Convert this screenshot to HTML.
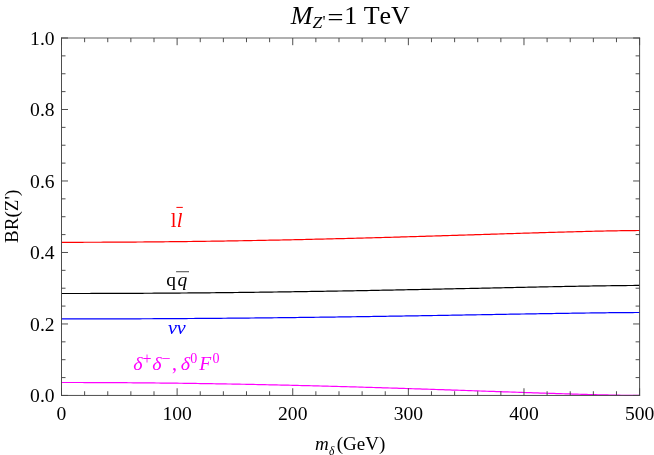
<!DOCTYPE html>
<html><head><meta charset="utf-8"><title>BR(Z')</title>
<style>
html,body{margin:0;padding:0;background:#fff;}
body{width:654px;height:455px;overflow:hidden;}
svg{display:block;will-change:transform;}
text{font-family:"Liberation Serif",serif;font-kerning:none;}
</style></head><body>
<svg width="654" height="455" viewBox="0 0 654 455">
<rect width="654" height="455" fill="#fff"/>
<g fill="none" stroke-width="1.2" stroke-linejoin="round">
<path d="M61.50,242.30 L63.81,242.30 L66.12,242.30 L68.44,242.30 L70.75,242.30 L73.06,242.29 L75.37,242.29 L77.69,242.29 L80.00,242.28 L82.31,242.28 L84.62,242.27 L86.94,242.27 L89.25,242.26 L91.56,242.26 L93.87,242.25 L96.19,242.24 L98.50,242.23 L100.81,242.23 L103.12,242.22 L105.44,242.21 L107.75,242.20 L110.06,242.19 L112.37,242.17 L114.69,242.16 L117.00,242.15 L119.31,242.14 L121.62,242.12 L123.93,242.11 L126.25,242.10 L128.56,242.08 L130.87,242.07 L133.18,242.05 L135.50,242.03 L137.81,242.02 L140.12,242.00 L142.43,241.98 L144.75,241.96 L147.06,241.94 L149.37,241.92 L151.68,241.90 L154.00,241.88 L156.31,241.86 L158.62,241.84 L160.93,241.82 L163.25,241.79 L165.56,241.77 L167.87,241.75 L170.18,241.72 L172.50,241.70 L174.81,241.67 L177.12,241.65 L179.43,241.62 L181.74,241.59 L184.06,241.57 L186.37,241.54 L188.68,241.51 L190.99,241.48 L193.31,241.45 L195.62,241.42 L197.93,241.39 L200.24,241.36 L202.56,241.33 L204.87,241.30 L207.18,241.27 L209.49,241.23 L211.81,241.20 L214.12,241.17 L216.43,241.13 L218.74,241.10 L221.06,241.06 L223.37,241.03 L225.68,240.99 L227.99,240.96 L230.31,240.92 L232.62,240.88 L234.93,240.84 L237.24,240.80 L239.55,240.76 L241.87,240.73 L244.18,240.69 L246.49,240.64 L248.80,240.60 L251.12,240.56 L253.43,240.52 L255.74,240.48 L258.05,240.44 L260.37,240.39 L262.68,240.35 L264.99,240.30 L267.30,240.26 L269.62,240.21 L271.93,240.17 L274.24,240.12 L276.55,240.08 L278.87,240.03 L281.18,239.98 L283.49,239.93 L285.80,239.89 L288.12,239.84 L290.43,239.79 L292.74,239.74 L295.05,239.69 L297.36,239.64 L299.68,239.59 L301.99,239.54 L304.30,239.48 L306.61,239.43 L308.93,239.38 L311.24,239.33 L313.55,239.27 L315.86,239.22 L318.18,239.16 L320.49,239.11 L322.80,239.05 L325.11,239.00 L327.43,238.94 L329.74,238.89 L332.05,238.83 L334.36,238.77 L336.68,238.72 L338.99,238.66 L341.30,238.60 L343.61,238.54 L345.93,238.48 L348.24,238.42 L350.55,238.36 L352.86,238.30 L355.17,238.24 L357.49,238.18 L359.80,238.12 L362.11,238.06 L364.42,238.00 L366.74,237.93 L369.05,237.87 L371.36,237.81 L373.67,237.75 L375.99,237.68 L378.30,237.62 L380.61,237.55 L382.92,237.49 L385.24,237.43 L387.55,237.36 L389.86,237.29 L392.17,237.23 L394.49,237.16 L396.80,237.10 L399.11,237.03 L401.42,236.96 L403.74,236.90 L406.05,236.83 L408.36,236.76 L410.67,236.69 L412.98,236.63 L415.30,236.56 L417.61,236.49 L419.92,236.42 L422.23,236.35 L424.55,236.28 L426.86,236.21 L429.17,236.14 L431.48,236.07 L433.80,236.00 L436.11,235.93 L438.42,235.86 L440.73,235.79 L443.05,235.72 L445.36,235.65 L447.67,235.58 L449.98,235.51 L452.30,235.43 L454.61,235.36 L456.92,235.29 L459.23,235.22 L461.55,235.15 L463.86,235.08 L466.17,235.00 L468.48,234.93 L470.79,234.86 L473.11,234.79 L475.42,234.71 L477.73,234.64 L480.04,234.57 L482.36,234.50 L484.67,234.42 L486.98,234.35 L489.29,234.28 L491.61,234.21 L493.92,234.13 L496.23,234.06 L498.54,233.99 L500.86,233.92 L503.17,233.85 L505.48,233.77 L507.79,233.70 L510.11,233.63 L512.42,233.56 L514.73,233.49 L517.04,233.41 L519.36,233.34 L521.67,233.27 L523.98,233.20 L526.29,233.13 L528.60,233.06 L530.92,232.99 L533.23,232.92 L535.54,232.85 L537.85,232.78 L540.17,232.71 L542.48,232.64 L544.79,232.57 L547.10,232.51 L549.42,232.44 L551.73,232.37 L554.04,232.30 L556.35,232.24 L558.67,232.17 L560.98,232.11 L563.29,232.04 L565.60,231.98 L567.92,231.91 L570.23,231.85 L572.54,231.79 L574.85,231.73 L577.17,231.67 L579.48,231.61 L581.79,231.55 L584.10,231.49 L586.41,231.43 L588.73,231.37 L591.04,231.32 L593.35,231.26 L595.66,231.21 L597.98,231.16 L600.29,231.10 L602.60,231.05 L604.91,231.00 L607.23,230.96 L609.54,230.91 L611.85,230.86 L614.16,230.82 L616.48,230.78 L618.79,230.74 L621.10,230.70 L623.41,230.67 L625.73,230.63 L628.04,230.60 L630.35,230.57 L632.66,230.55 L634.98,230.53 L637.29,230.51 L639.60,230.50" stroke="#ff0000"/>
<path d="M61.50,293.50 L63.81,293.50 L66.12,293.50 L68.44,293.50 L70.75,293.50 L73.06,293.50 L75.37,293.50 L77.69,293.49 L80.00,293.49 L82.31,293.49 L84.62,293.48 L86.94,293.48 L89.25,293.48 L91.56,293.47 L93.87,293.47 L96.19,293.46 L98.50,293.46 L100.81,293.45 L103.12,293.44 L105.44,293.44 L107.75,293.43 L110.06,293.42 L112.37,293.42 L114.69,293.41 L117.00,293.40 L119.31,293.39 L121.62,293.38 L123.93,293.37 L126.25,293.36 L128.56,293.35 L130.87,293.34 L133.18,293.33 L135.50,293.32 L137.81,293.31 L140.12,293.30 L142.43,293.28 L144.75,293.27 L147.06,293.26 L149.37,293.24 L151.68,293.23 L154.00,293.22 L156.31,293.20 L158.62,293.19 L160.93,293.17 L163.25,293.16 L165.56,293.14 L167.87,293.12 L170.18,293.11 L172.50,293.09 L174.81,293.07 L177.12,293.06 L179.43,293.04 L181.74,293.02 L184.06,293.00 L186.37,292.98 L188.68,292.96 L190.99,292.94 L193.31,292.92 L195.62,292.90 L197.93,292.88 L200.24,292.86 L202.56,292.84 L204.87,292.82 L207.18,292.80 L209.49,292.78 L211.81,292.75 L214.12,292.73 L216.43,292.71 L218.74,292.68 L221.06,292.66 L223.37,292.63 L225.68,292.61 L227.99,292.58 L230.31,292.56 L232.62,292.53 L234.93,292.51 L237.24,292.48 L239.55,292.46 L241.87,292.43 L244.18,292.40 L246.49,292.37 L248.80,292.35 L251.12,292.32 L253.43,292.29 L255.74,292.26 L258.05,292.23 L260.37,292.20 L262.68,292.17 L264.99,292.14 L267.30,292.11 L269.62,292.08 L271.93,292.05 L274.24,292.02 L276.55,291.99 L278.87,291.95 L281.18,291.92 L283.49,291.89 L285.80,291.86 L288.12,291.82 L290.43,291.79 L292.74,291.76 L295.05,291.72 L297.36,291.69 L299.68,291.65 L301.99,291.62 L304.30,291.58 L306.61,291.55 L308.93,291.51 L311.24,291.47 L313.55,291.44 L315.86,291.40 L318.18,291.36 L320.49,291.33 L322.80,291.29 L325.11,291.25 L327.43,291.21 L329.74,291.17 L332.05,291.14 L334.36,291.10 L336.68,291.06 L338.99,291.02 L341.30,290.98 L343.61,290.94 L345.93,290.90 L348.24,290.86 L350.55,290.82 L352.86,290.78 L355.17,290.74 L357.49,290.69 L359.80,290.65 L362.11,290.61 L364.42,290.57 L366.74,290.53 L369.05,290.48 L371.36,290.44 L373.67,290.40 L375.99,290.35 L378.30,290.31 L380.61,290.27 L382.92,290.22 L385.24,290.18 L387.55,290.13 L389.86,290.09 L392.17,290.04 L394.49,290.00 L396.80,289.95 L399.11,289.91 L401.42,289.86 L403.74,289.82 L406.05,289.77 L408.36,289.72 L410.67,289.68 L412.98,289.63 L415.30,289.59 L417.61,289.54 L419.92,289.49 L422.23,289.44 L424.55,289.40 L426.86,289.35 L429.17,289.30 L431.48,289.25 L433.80,289.21 L436.11,289.16 L438.42,289.11 L440.73,289.06 L443.05,289.01 L445.36,288.97 L447.67,288.92 L449.98,288.87 L452.30,288.82 L454.61,288.77 L456.92,288.72 L459.23,288.67 L461.55,288.62 L463.86,288.57 L466.17,288.52 L468.48,288.48 L470.79,288.43 L473.11,288.38 L475.42,288.33 L477.73,288.28 L480.04,288.23 L482.36,288.18 L484.67,288.13 L486.98,288.08 L489.29,288.03 L491.61,287.98 L493.92,287.93 L496.23,287.88 L498.54,287.83 L500.86,287.78 L503.17,287.73 L505.48,287.68 L507.79,287.64 L510.11,287.59 L512.42,287.54 L514.73,287.49 L517.04,287.44 L519.36,287.39 L521.67,287.34 L523.98,287.29 L526.29,287.25 L528.60,287.20 L530.92,287.15 L533.23,287.10 L535.54,287.05 L537.85,287.01 L540.17,286.96 L542.48,286.91 L544.79,286.87 L547.10,286.82 L549.42,286.77 L551.73,286.73 L554.04,286.68 L556.35,286.64 L558.67,286.59 L560.98,286.55 L563.29,286.50 L565.60,286.46 L567.92,286.41 L570.23,286.37 L572.54,286.33 L574.85,286.29 L577.17,286.25 L579.48,286.20 L581.79,286.16 L584.10,286.12 L586.41,286.08 L588.73,286.04 L591.04,286.01 L593.35,285.97 L595.66,285.93 L597.98,285.90 L600.29,285.86 L602.60,285.83 L604.91,285.79 L607.23,285.76 L609.54,285.73 L611.85,285.70 L614.16,285.67 L616.48,285.64 L618.79,285.61 L621.10,285.59 L623.41,285.56 L625.73,285.54 L628.04,285.52 L630.35,285.50 L632.66,285.48 L634.98,285.47 L637.29,285.45 L639.60,285.45" stroke="#000000"/>
<path d="M61.50,318.95 L63.81,318.95 L66.12,318.95 L68.44,318.95 L70.75,318.95 L73.06,318.95 L75.37,318.94 L77.69,318.94 L80.00,318.94 L82.31,318.94 L84.62,318.93 L86.94,318.93 L89.25,318.93 L91.56,318.93 L93.87,318.92 L96.19,318.92 L98.50,318.91 L100.81,318.91 L103.12,318.90 L105.44,318.90 L107.75,318.89 L110.06,318.89 L112.37,318.88 L114.69,318.87 L117.00,318.87 L119.31,318.86 L121.62,318.85 L123.93,318.85 L126.25,318.84 L128.56,318.83 L130.87,318.82 L133.18,318.81 L135.50,318.80 L137.81,318.79 L140.12,318.78 L142.43,318.77 L144.75,318.76 L147.06,318.75 L149.37,318.74 L151.68,318.73 L154.00,318.72 L156.31,318.71 L158.62,318.70 L160.93,318.69 L163.25,318.67 L165.56,318.66 L167.87,318.65 L170.18,318.64 L172.50,318.62 L174.81,318.61 L177.12,318.59 L179.43,318.58 L181.74,318.57 L184.06,318.55 L186.37,318.54 L188.68,318.52 L190.99,318.50 L193.31,318.49 L195.62,318.47 L197.93,318.46 L200.24,318.44 L202.56,318.42 L204.87,318.41 L207.18,318.39 L209.49,318.37 L211.81,318.35 L214.12,318.33 L216.43,318.31 L218.74,318.30 L221.06,318.28 L223.37,318.26 L225.68,318.24 L227.99,318.22 L230.31,318.20 L232.62,318.18 L234.93,318.16 L237.24,318.14 L239.55,318.11 L241.87,318.09 L244.18,318.07 L246.49,318.05 L248.80,318.03 L251.12,318.00 L253.43,317.98 L255.74,317.96 L258.05,317.93 L260.37,317.91 L262.68,317.89 L264.99,317.86 L267.30,317.84 L269.62,317.81 L271.93,317.79 L274.24,317.76 L276.55,317.74 L278.87,317.71 L281.18,317.69 L283.49,317.66 L285.80,317.64 L288.12,317.61 L290.43,317.58 L292.74,317.56 L295.05,317.53 L297.36,317.50 L299.68,317.47 L301.99,317.45 L304.30,317.42 L306.61,317.39 L308.93,317.36 L311.24,317.33 L313.55,317.30 L315.86,317.27 L318.18,317.24 L320.49,317.21 L322.80,317.18 L325.11,317.15 L327.43,317.12 L329.74,317.09 L332.05,317.06 L334.36,317.03 L336.68,317.00 L338.99,316.97 L341.30,316.94 L343.61,316.90 L345.93,316.87 L348.24,316.84 L350.55,316.81 L352.86,316.77 L355.17,316.74 L357.49,316.71 L359.80,316.67 L362.11,316.64 L364.42,316.61 L366.74,316.57 L369.05,316.54 L371.36,316.50 L373.67,316.47 L375.99,316.44 L378.30,316.40 L380.61,316.37 L382.92,316.33 L385.24,316.29 L387.55,316.26 L389.86,316.22 L392.17,316.19 L394.49,316.15 L396.80,316.12 L399.11,316.08 L401.42,316.04 L403.74,316.01 L406.05,315.97 L408.36,315.93 L410.67,315.90 L412.98,315.86 L415.30,315.82 L417.61,315.78 L419.92,315.75 L422.23,315.71 L424.55,315.67 L426.86,315.63 L429.17,315.59 L431.48,315.56 L433.80,315.52 L436.11,315.48 L438.42,315.44 L440.73,315.40 L443.05,315.36 L445.36,315.32 L447.67,315.29 L449.98,315.25 L452.30,315.21 L454.61,315.17 L456.92,315.13 L459.23,315.09 L461.55,315.05 L463.86,315.01 L466.17,314.97 L468.48,314.93 L470.79,314.89 L473.11,314.85 L475.42,314.81 L477.73,314.77 L480.04,314.73 L482.36,314.69 L484.67,314.65 L486.98,314.61 L489.29,314.57 L491.61,314.54 L493.92,314.50 L496.23,314.46 L498.54,314.42 L500.86,314.38 L503.17,314.34 L505.48,314.30 L507.79,314.26 L510.11,314.22 L512.42,314.18 L514.73,314.14 L517.04,314.10 L519.36,314.06 L521.67,314.02 L523.98,313.98 L526.29,313.94 L528.60,313.91 L530.92,313.87 L533.23,313.83 L535.54,313.79 L537.85,313.75 L540.17,313.71 L542.48,313.68 L544.79,313.64 L547.10,313.60 L549.42,313.57 L551.73,313.53 L554.04,313.49 L556.35,313.46 L558.67,313.42 L560.98,313.38 L563.29,313.35 L565.60,313.31 L567.92,313.28 L570.23,313.24 L572.54,313.21 L574.85,313.17 L577.17,313.14 L579.48,313.11 L581.79,313.08 L584.10,313.04 L586.41,313.01 L588.73,312.98 L591.04,312.95 L593.35,312.92 L595.66,312.89 L597.98,312.86 L600.29,312.83 L602.60,312.80 L604.91,312.78 L607.23,312.75 L609.54,312.72 L611.85,312.70 L614.16,312.68 L616.48,312.65 L618.79,312.63 L621.10,312.61 L623.41,312.59 L625.73,312.57 L628.04,312.56 L630.35,312.54 L632.66,312.53 L634.98,312.51 L637.29,312.51 L639.60,312.50" stroke="#0000ff"/>
<path d="M61.50,382.50 L63.81,382.50 L66.12,382.50 L68.44,382.50 L70.75,382.50 L73.06,382.51 L75.37,382.51 L77.69,382.51 L80.00,382.52 L82.31,382.52 L84.62,382.53 L86.94,382.53 L89.25,382.54 L91.56,382.55 L93.87,382.56 L96.19,382.56 L98.50,382.57 L100.81,382.58 L103.12,382.59 L105.44,382.60 L107.75,382.61 L110.06,382.63 L112.37,382.64 L114.69,382.65 L117.00,382.66 L119.31,382.68 L121.62,382.69 L123.93,382.71 L126.25,382.72 L128.56,382.74 L130.87,382.76 L133.18,382.78 L135.50,382.79 L137.81,382.81 L140.12,382.83 L142.43,382.85 L144.75,382.87 L147.06,382.89 L149.37,382.91 L151.68,382.94 L154.00,382.96 L156.31,382.98 L158.62,383.01 L160.93,383.03 L163.25,383.06 L165.56,383.08 L167.87,383.11 L170.18,383.13 L172.50,383.16 L174.81,383.19 L177.12,383.22 L179.43,383.25 L181.74,383.27 L184.06,383.30 L186.37,383.34 L188.68,383.37 L190.99,383.40 L193.31,383.43 L195.62,383.46 L197.93,383.50 L200.24,383.53 L202.56,383.56 L204.87,383.60 L207.18,383.63 L209.49,383.67 L211.81,383.71 L214.12,383.74 L216.43,383.78 L218.74,383.82 L221.06,383.86 L223.37,383.90 L225.68,383.94 L227.99,383.98 L230.31,384.02 L232.62,384.06 L234.93,384.10 L237.24,384.14 L239.55,384.19 L241.87,384.23 L244.18,384.27 L246.49,384.32 L248.80,384.36 L251.12,384.41 L253.43,384.45 L255.74,384.50 L258.05,384.55 L260.37,384.60 L262.68,384.64 L264.99,384.69 L267.30,384.74 L269.62,384.79 L271.93,384.84 L274.24,384.89 L276.55,384.94 L278.87,384.99 L281.18,385.05 L283.49,385.10 L285.80,385.15 L288.12,385.21 L290.43,385.26 L292.74,385.31 L295.05,385.37 L297.36,385.42 L299.68,385.48 L301.99,385.54 L304.30,385.59 L306.61,385.65 L308.93,385.71 L311.24,385.77 L313.55,385.83 L315.86,385.88 L318.18,385.94 L320.49,386.00 L322.80,386.06 L325.11,386.13 L327.43,386.19 L329.74,386.25 L332.05,386.31 L334.36,386.37 L336.68,386.44 L338.99,386.50 L341.30,386.56 L343.61,386.63 L345.93,386.69 L348.24,386.76 L350.55,386.82 L352.86,386.89 L355.17,386.96 L357.49,387.02 L359.80,387.09 L362.11,387.16 L364.42,387.23 L366.74,387.29 L369.05,387.36 L371.36,387.43 L373.67,387.50 L375.99,387.57 L378.30,387.64 L380.61,387.71 L382.92,387.78 L385.24,387.85 L387.55,387.92 L389.86,388.00 L392.17,388.07 L394.49,388.14 L396.80,388.21 L399.11,388.29 L401.42,388.36 L403.74,388.43 L406.05,388.51 L408.36,388.58 L410.67,388.66 L412.98,388.73 L415.30,388.81 L417.61,388.88 L419.92,388.96 L422.23,389.03 L424.55,389.11 L426.86,389.18 L429.17,389.26 L431.48,389.34 L433.80,389.41 L436.11,389.49 L438.42,389.57 L440.73,389.65 L443.05,389.72 L445.36,389.80 L447.67,389.88 L449.98,389.96 L452.30,390.04 L454.61,390.12 L456.92,390.19 L459.23,390.27 L461.55,390.35 L463.86,390.43 L466.17,390.51 L468.48,390.59 L470.79,390.67 L473.11,390.75 L475.42,390.83 L477.73,390.91 L480.04,390.99 L482.36,391.07 L484.67,391.15 L486.98,391.23 L489.29,391.30 L491.61,391.38 L493.92,391.46 L496.23,391.54 L498.54,391.62 L500.86,391.70 L503.17,391.78 L505.48,391.86 L507.79,391.94 L510.11,392.02 L512.42,392.10 L514.73,392.18 L517.04,392.25 L519.36,392.33 L521.67,392.41 L523.98,392.49 L526.29,392.57 L528.60,392.64 L530.92,392.72 L533.23,392.80 L535.54,392.87 L537.85,392.95 L540.17,393.03 L542.48,393.10 L544.79,393.18 L547.10,393.25 L549.42,393.32 L551.73,393.40 L554.04,393.47 L556.35,393.54 L558.67,393.62 L560.98,393.69 L563.29,393.76 L565.60,393.83 L567.92,393.90 L570.23,393.97 L572.54,394.04 L574.85,394.10 L577.17,394.17 L579.48,394.24 L581.79,394.30 L584.10,394.37 L586.41,394.43 L588.73,394.49 L591.04,394.55 L593.35,394.61 L595.66,394.67 L597.98,394.73 L600.29,394.79 L602.60,394.84 L604.91,394.90 L607.23,394.95 L609.54,395.00 L611.85,395.05 L614.16,395.10 L616.48,395.14 L618.79,395.19 L621.10,395.23 L623.41,395.27 L625.73,395.31 L628.04,395.34 L630.35,395.37 L632.66,395.40 L634.98,395.42 L637.29,395.44 L639.60,395.45" stroke="#ff00ff"/>
</g>
<path d="M61.5,37.6 V395.9 M639.6,37.6 V395.9 M61.0,395.45 H640.1" fill="none" stroke="#444" stroke-width="0.95"/>
<path d="M61.0,38.0 H640.1" fill="none" stroke="#444" stroke-width="0.85"/>
<path d="M61.50,395.45 v-7.20 M61.50,38.00 v7.20 M84.62,395.45 v-4.20 M84.62,38.00 v4.20 M107.75,395.45 v-4.20 M107.75,38.00 v4.20 M130.87,395.45 v-4.20 M130.87,38.00 v4.20 M154.00,395.45 v-4.20 M154.00,38.00 v4.20 M177.12,395.45 v-7.20 M177.12,38.00 v7.20 M200.24,395.45 v-4.20 M200.24,38.00 v4.20 M223.37,395.45 v-4.20 M223.37,38.00 v4.20 M246.49,395.45 v-4.20 M246.49,38.00 v4.20 M269.62,395.45 v-4.20 M269.62,38.00 v4.20 M292.74,395.45 v-7.20 M292.74,38.00 v7.20 M315.86,395.45 v-4.20 M315.86,38.00 v4.20 M338.99,395.45 v-4.20 M338.99,38.00 v4.20 M362.11,395.45 v-4.20 M362.11,38.00 v4.20 M385.24,395.45 v-4.20 M385.24,38.00 v4.20 M408.36,395.45 v-7.20 M408.36,38.00 v7.20 M431.48,395.45 v-4.20 M431.48,38.00 v4.20 M454.61,395.45 v-4.20 M454.61,38.00 v4.20 M477.73,395.45 v-4.20 M477.73,38.00 v4.20 M500.86,395.45 v-4.20 M500.86,38.00 v4.20 M523.98,395.45 v-7.20 M523.98,38.00 v7.20 M547.10,395.45 v-4.20 M547.10,38.00 v4.20 M570.23,395.45 v-4.20 M570.23,38.00 v4.20 M593.35,395.45 v-4.20 M593.35,38.00 v4.20 M616.48,395.45 v-4.20 M616.48,38.00 v4.20 M639.60,395.45 v-7.20 M639.60,38.00 v7.20 M61.50,395.45 h6.50 M639.60,395.45 h-6.50 M61.50,377.58 h4.00 M639.60,377.58 h-4.00 M61.50,359.70 h4.00 M639.60,359.70 h-4.00 M61.50,341.83 h4.00 M639.60,341.83 h-4.00 M61.50,323.96 h6.50 M639.60,323.96 h-6.50 M61.50,306.09 h4.00 M639.60,306.09 h-4.00 M61.50,288.21 h4.00 M639.60,288.21 h-4.00 M61.50,270.34 h4.00 M639.60,270.34 h-4.00 M61.50,252.47 h6.50 M639.60,252.47 h-6.50 M61.50,234.60 h4.00 M639.60,234.60 h-4.00 M61.50,216.72 h4.00 M639.60,216.72 h-4.00 M61.50,198.85 h4.00 M639.60,198.85 h-4.00 M61.50,180.98 h6.50 M639.60,180.98 h-6.50 M61.50,163.11 h4.00 M639.60,163.11 h-4.00 M61.50,145.23 h4.00 M639.60,145.23 h-4.00 M61.50,127.36 h4.00 M639.60,127.36 h-4.00 M61.50,109.49 h6.50 M639.60,109.49 h-6.50 M61.50,91.62 h4.00 M639.60,91.62 h-4.00 M61.50,73.75 h4.00 M639.60,73.75 h-4.00 M61.50,55.87 h4.00 M639.60,55.87 h-4.00 M61.50,38.00 h6.50 M639.60,38.00 h-6.50" fill="none" stroke="#444" stroke-width="0.95"/>
<g font-size="19.6" fill="#000"><text x="61.50" y="420" text-anchor="middle">0</text><text x="177.12" y="420" text-anchor="middle">100</text><text x="292.74" y="420" text-anchor="middle">200</text><text x="408.36" y="420" text-anchor="middle">300</text><text x="523.98" y="420" text-anchor="middle">400</text><text x="639.60" y="420" text-anchor="middle">500</text><text x="54.6" y="402" text-anchor="end">0.0</text><text x="54.6" y="331" text-anchor="end">0.2</text><text x="54.6" y="259" text-anchor="end">0.4</text><text x="54.6" y="188" text-anchor="end">0.6</text><text x="54.6" y="116" text-anchor="end">0.8</text><text x="54.6" y="45" text-anchor="end">1.0</text></g>
<g fill="#000">
<text x="290.73" y="23.70" font-size="26.00" font-style="italic">M</text>
<text x="312.55" y="27.70" font-size="17.50" font-style="italic">Z</text>
<text x="322.47" y="27.30" font-size="17.00">&#39;</text>
<path d="M328.8,14.5 H342.1 M328.8,19.5 H342.1" stroke="#000" stroke-width="1.25" fill="none"/>
<text x="344.2" y="23.7" font-size="26">1 TeV</text>
<text x="315.10" y="450.40" font-size="19.00" font-style="italic">m</text>
<text x="329.08" y="454.80" font-size="11.50" font-style="italic">δ</text>
<text x="336.7" y="450.4" font-size="19">(GeV)</text>
<text transform="translate(18,243.0) rotate(-90)" font-size="19.1">BR(Z&#39;)</text>
<text x="170.85" y="227.00" font-size="20.50" fill="#ff0000">l</text>
<text x="176.63" y="227.00" font-size="20.50" font-style="italic" fill="#ff0000">l</text>
<path d="M176.4,207.4 H182.8" stroke="#ff0000" stroke-width="1" fill="none"/>
<text x="166.20" y="286.00" font-size="19.50">q</text>
<text x="177.38" y="286.00" font-size="19.50" font-style="italic">q</text>
<path d="M176.1,271.7 H189" stroke="#555" stroke-width="1.1" fill="none"/>
<text transform="translate(167.89,334.00) scale(1.0600,1)" font-size="19.00" font-style="italic" fill="#0000ff">ν</text>
<text transform="translate(176.79,334.00) scale(1.0600,1)" font-size="19.00" font-style="italic" fill="#0000ff">ν</text>
<text transform="translate(133.24,370.00) scale(1.0500,1)" font-size="19.00" font-style="italic" fill="#ff00ff">δ</text>
<text x="142.38" y="364.00" font-size="16.00" fill="#ff00ff">+</text>
<text transform="translate(152.24,370.00) scale(1.0500,1)" font-size="19.00" font-style="italic" fill="#ff00ff">δ</text>
<text x="161.48" y="364.00" font-size="16.00" fill="#ff00ff">−</text>
<text x="171.95" y="370.00" font-size="20.00" fill="#ff00ff">,</text>
<text transform="translate(180.64,370.00) scale(1.0500,1)" font-size="19.00" font-style="italic" fill="#ff00ff">δ</text>
<text transform="translate(190.30,363.00) scale(0.9100,1)" font-size="15.40" fill="#ff00ff">0</text>
<text transform="translate(199.19,370.00) scale(1.0300,1)" font-size="19.00" font-style="italic" fill="#ff00ff">F</text>
<text transform="translate(212.40,363.00) scale(0.9100,1)" font-size="15.40" fill="#ff00ff">0</text>
</g>
</svg>
</body></html>
